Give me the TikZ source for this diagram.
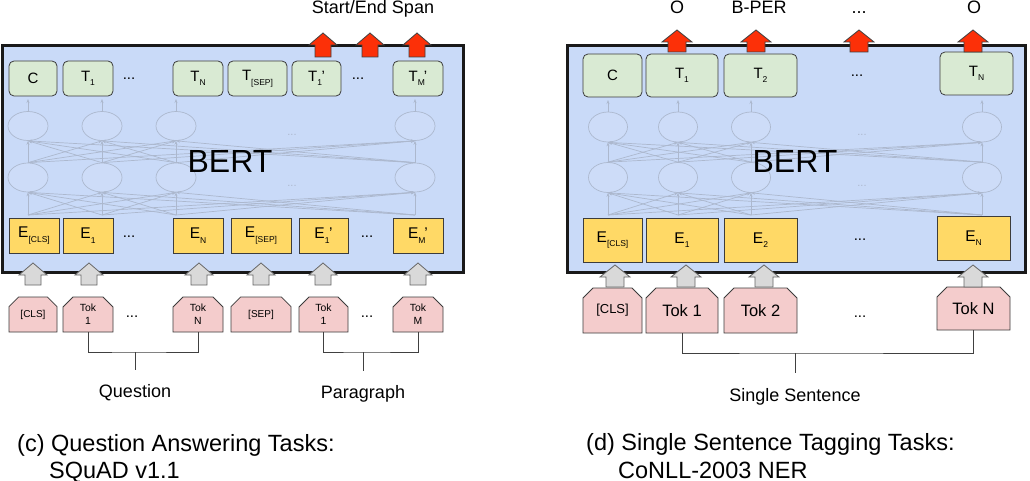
\documentclass[tikz,border=0pt]{standalone}
\usepackage{fontspec}
\setmainfont{Liberation Sans}
\usetikzlibrary{shapes.misc,shapes.geometric,arrows.meta}
\definecolor{bluebg}{RGB}{201,218,248}
\definecolor{gfill}{RGB}{217,234,211}
\definecolor{yfill}{RGB}{255,217,102}
\definecolor{pfill}{RGB}{244,204,204}
\definecolor{netc}{RGB}{172,184,206}
\definecolor{redarr}{RGB}{252,48,8}
\definecolor{grayarr}{RGB}{217,217,217}
\definecolor{edgec}{RGB}{60,60,60}
\newcommand{\sbs}[1]{\raisebox{-4.5pt}{\fontsize{8.5}{8.5}\selectfont #1}}
\newcommand{\blkarrow}[7]{%
  \draw[#1] (#2,#3) -- ({#2+#5},{#3+#7}) -- ({#2+#6},{#3+#7}) -- ({#2+#6},#4)
    -- ({#2-#6},#4) -- ({#2-#6},{#3+#7}) -- ({#2-#5},{#3+#7}) -- cycle;}
\tikzset{
  bnode/.style={inner sep=0pt, text=black},
  gbox/.style={bnode, draw=edgec, line width=0.8pt, fill=gfill, rounded corners=5pt, font=\fontsize{15}{15}\selectfont},
  ybox/.style={bnode, draw=edgec, line width=0.8pt, fill=yfill, font=\fontsize{15.5}{15.5}\selectfont},
  pbox/.style={bnode, draw=edgec, line width=0.8pt, fill=pfill, chamfered rectangle,
    chamfered rectangle corners={north west,north east}, chamfered rectangle xsep=5pt,
    chamfered rectangle ysep=5pt, align=center},
  bertbox/.style={draw=black!90, line width=3pt, fill=bluebg},
  netell/.style={ellipse, draw=netc, line width=0.7pt, fill=white, fill opacity=0.08, inner sep=0pt},
  netline/.style={draw=netc, line width=0.7pt, -{Stealth[length=4pt,width=3pt]}},
  netdots/.style={bnode, text=netc, font=\fontsize{11}{11}\selectfont},
  dotsnode/.style={bnode, font=\fontsize{15}{15}\selectfont},
  redstyle/.style={fill=redarr, draw=black!75, line width=0.8pt},
  graystyle/.style={fill=grayarr, draw=black!60, line width=0.8pt},
  brk/.style={draw=black!75, line width=0.9pt},
  lbl/.style={bnode, font=\fontsize{18}{18}\selectfont, anchor=base},
  captxt/.style={bnode, font=\fontsize{23.5}{23.5}\selectfont, anchor=base west},
  berttxt/.style={bnode, font=\fontsize{32}{32}\selectfont, anchor=base},
}
\begin{document}
\begin{tikzpicture}[x=1pt,y=-1pt]
\useasboundingbox[fill=white] (0,0) rectangle (1030,481);

% ================= LEFT PANEL =================
\node[lbl] (span) at (373,14) {Start/End Span};
\path[bertbox] (2,46) rectangle (463,272);

% network
\foreach \i/\x in {1/28,2/102,3/176,4/415}{
  \node[netell, minimum width=40pt, minimum height=29pt] (Lu\i) at (\x,126) {};
  \node[netell, minimum width=40pt, minimum height=29pt] (Ll\i) at (\x,177.5) {};
  \coordinate (Lb\i) at (\x,215);
  \coordinate (Lt\i) at (\x,99);
}
\foreach \i in {1,...,4}{
  \foreach \j in {1,...,4}{
    \draw[netline] (Lb\i) -- (Ll\j.south);
    \draw[netline] (Ll\i.north) -- (Lu\j.south);
  }
  \draw[netline] (Lu\i.north) -- (Lt\i);
}
\node[netdots] (Lnd1) at (292,135) {...};
\node[netdots] (Lnd2) at (292,186) {...};
\node[berttxt] (Lbert) at (230,173) {BERT};

% top outputs
\node[gbox, minimum width=48pt, minimum height=35pt] (LC) at (33,78.5) {C};
\node[gbox, minimum width=50pt, minimum height=35pt] (LT1) at (88,78.5) {T\sbs{1}};
\node[dotsnode] (LTd1) at (129,79) {...};
\node[gbox, minimum width=50pt, minimum height=35pt] (LTN) at (198,78.5) {T\sbs{N}};
\node[gbox, minimum width=59pt, minimum height=35pt] (LTS) at (257.5,78.5) {T\sbs{[SEP]}};
\node[gbox, minimum width=49pt, minimum height=35pt] (LT1p) at (316.5,78.5) {T\sbs{1}\kern-0.5pt'};
\node[dotsnode] (LTd2) at (358,79) {...};
\node[gbox, minimum width=50pt, minimum height=35pt] (LTMp) at (418,78.5) {T\sbs{M}\kern-1pt'};

% embeddings
\node[ybox, minimum width=50pt, minimum height=35pt] (LEC) at (34,235.5) {E\sbs{[CLS]}};
\node[ybox, minimum width=50pt, minimum height=35pt] (LE1) at (88,235.5) {E\sbs{1}};
\node[dotsnode] (LEd1) at (129,237) {...};
\node[ybox, minimum width=50pt, minimum height=35pt] (LEN) at (198,235.5) {E\sbs{N}};
\node[ybox, minimum width=60pt, minimum height=35pt] (LES) at (261,235.5) {E\sbs{[SEP]}};
\node[ybox, minimum width=49pt, minimum height=35pt] (LE1p) at (323.5,235.5) {E\sbs{1}\kern-0.5pt'};
\node[dotsnode] (LEd2) at (367,237) {...};
\node[ybox, minimum width=50pt, minimum height=35pt] (LEMp) at (418,235.5) {E\sbs{M}\kern-1pt'};

% tokens
\node[pbox, minimum width=48pt, minimum height=35pt, font=\fontsize{10}{13}\selectfont] (LkC) at (33,314.5) {[CLS]};
\node[pbox, minimum width=50pt, minimum height=35pt, font=\fontsize{10.4}{13}\selectfont] (Lk1) at (88,314.5) {Tok\\1};
\node[dotsnode] (Lkd1) at (132,317) {...};
\node[pbox, minimum width=50pt, minimum height=35pt, font=\fontsize{10.4}{13}\selectfont] (LkN) at (198,314.5) {Tok\\N};
\node[pbox, minimum width=60pt, minimum height=35pt, font=\fontsize{10}{13}\selectfont] (LkS) at (261,314.5) {[SEP]};
\node[pbox, minimum width=49pt, minimum height=35pt, font=\fontsize{10.4}{13}\selectfont] (Lk1p) at (323.5,314.5) {Tok\\1};
\node[dotsnode] (Lkd2) at (367,317) {...};
\node[pbox, minimum width=50pt, minimum height=35pt, font=\fontsize{10.4}{13}\selectfont] (LkM) at (418,314.5) {Tok\\M};

% arrows
\foreach \x in {323,370,417}{\blkarrow{redstyle}{\x}{33}{57}{14}{8}{12}}
\foreach \x in {33,89,199,261,323,418}{\blkarrow{graystyle}{\x}{263}{285}{14}{8}{12}}

% brackets
\coordinate (Lq) at (135,352);
\coordinate (Lqs) at (135,370);
\draw[brk] (Lk1.south) |- (Lq) -| (LkN.south);
\draw[brk] (Lq) -- (Lqs);
\node[lbl] (Lquestion) at (135,397) {Question};
\coordinate (Lp) at (363,352);
\coordinate (Lps) at (363,371);
\draw[brk] (Lk1p.south) |- (Lp) -| (LkM.south);
\draw[brk] (Lp) -- (Lps);
\node[lbl] (Lparagraph) at (363,398) {Paragraph};

\node[captxt] (Lcap1) at (17,451) {(c) Question Answering Tasks:};
\node[captxt] (Lcap2) at (49,478) {SQuAD v1.1};

% ================= RIGHT PANEL =================
\node[lbl] (RO1) at (677,14) {O};
\node[lbl] (RBP) at (759,14) {B-PER};
\node[lbl] (Rdd) at (859,14) {...};
\node[lbl] (RO2) at (974,14) {O};
\path[bertbox] (567,46) rectangle (1025,272);

\foreach \i/\x in {1/608,2/678,3/751,4/982}{
  \node[netell, minimum width=39pt, minimum height=30pt] (Ru\i) at (\x,127) {};
  \node[netell, minimum width=39pt, minimum height=30pt] (Rl\i) at (\x,177.5) {};
  \coordinate (Rb\i) at (\x,215);
  \coordinate (Rt\i) at (\x,100);
}
\foreach \i in {1,...,4}{
  \foreach \j in {1,...,4}{
    \draw[netline] (Rb\i) -- (Rl\j.south);
    \draw[netline] (Rl\i.north) -- (Ru\j.south);
  }
  \draw[netline] (Ru\i.north) -- (Rt\i);
}
\node[netdots] (Rnd1) at (862,135) {...};
\node[netdots] (Rnd2) at (862,186) {...};
\node[berttxt] (Rbert) at (795,173) {BERT};

\node[gbox, minimum width=59pt, minimum height=43pt] (RC) at (612.5,75.5) {C};
\node[gbox, minimum width=72pt, minimum height=43pt] (RT1) at (682,75.5) {T\sbs{1}};
\node[gbox, minimum width=73pt, minimum height=43pt] (RT2) at (760.5,75.5) {T\sbs{2}};
\node[dotsnode] (RTd) at (857,76) {...};
\node[gbox, minimum width=73pt, minimum height=43pt] (RTN) at (976.5,73.5) {T\sbs{N}};

\node[ybox, minimum width=59pt, minimum height=44pt] (REC) at (612.5,240) {E\sbs{[CLS]}};
\node[ybox, minimum width=72pt, minimum height=44pt] (RE1) at (682,240) {E\sbs{1}};
\node[ybox, minimum width=73pt, minimum height=44pt] (RE2) at (760.5,240) {E\sbs{2}};
\node[dotsnode] (REd) at (860,240) {...};
\node[ybox, minimum width=73pt, minimum height=44pt] (REN) at (973.5,238) {E\sbs{N}};

\node[pbox, minimum width=59pt, minimum height=45pt, font=\fontsize{13}{13}\selectfont] (RkC) at (612.5,310.5) {[CLS]};
\node[pbox, minimum width=72pt, minimum height=45pt, font=\fontsize{16.5}{16.5}\selectfont] (Rk1) at (682,310.5) {Tok 1};
\node[pbox, minimum width=73pt, minimum height=45pt, font=\fontsize{16.5}{16.5}\selectfont] (Rk2) at (760.5,310.5) {Tok 2};
\node[dotsnode] (Rkd) at (860,317) {...};
\node[pbox, minimum width=73pt, minimum height=43pt, font=\fontsize{16.5}{16.5}\selectfont] (RkN) at (973.5,308.5) {Tok N};

\foreach \x in {677,756,859,973}{\blkarrow{redstyle}{\x}{30}{52}{15}{9}{12}}
\foreach \x in {615,686,764,973}{\blkarrow{graystyle}{\x}{265}{287}{15}{9}{12}}

\coordinate (Rs) at (795,353);
\coordinate (Rss) at (795,373);
\draw[brk] (Rk1.south) |- (Rs) -| (RkN.south);
\draw[brk] (Rs) -- (Rss);
\node[lbl] (Rsent) at (795,401) {Single Sentence};

\node[captxt] (Rcap1) at (586,450) {(d) Single Sentence Tagging Tasks:};
\node[captxt] (Rcap2) at (618,478) {CoNLL-2003 NER};
\end{tikzpicture}
\end{document}
